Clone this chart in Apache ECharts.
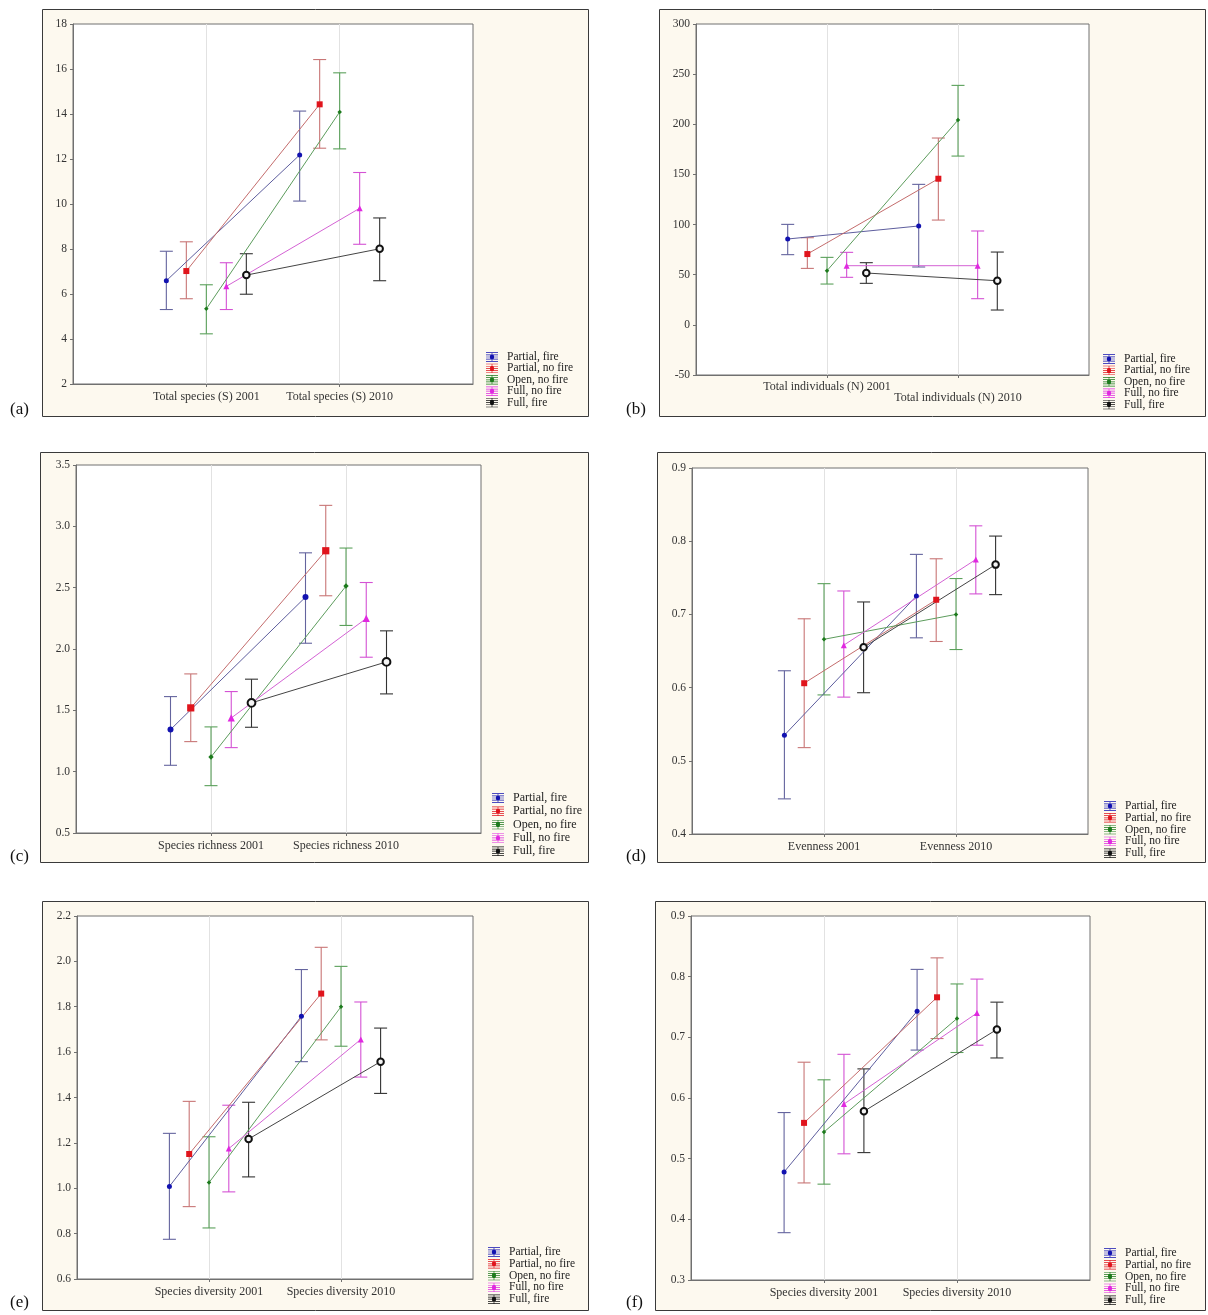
<!DOCTYPE html>
<html>
<head>
<meta charset="utf-8">
<script src="https://cdn.jsdelivr.net/npm/echarts@6/dist/echarts.min.js"></script>
<style>
html,body{margin:0;padding:0;background:#fff;}
#chart{width:1208px;height:1315px;}
</style>
</head>
<body>
<div id="chart"></div>
<script>
// ---------- DATA ----------
const GROUPS = ['Partial, fire', 'Partial, no fire', 'Open, no fire', 'Full, no fire', 'Full, fire'];

// (a) Total species
const aCats = ['Total species (S) 2001', 'Total species (S) 2010'];
const aYTicks = ['2', '4', '6', '8', '10', '12', '14', '16', '18'];
const aMean2001 = [6.59, 7.02, 5.34, 6.34, 6.84];
const aLow2001  = [5.31, 5.79, 4.23, 5.31, 5.99];
const aHigh2001 = [7.90, 8.32, 6.41, 7.39, 7.79];
const aMean2010 = [12.18, 14.43, 14.09, 9.81, 8.01];
const aLow2010  = [10.13, 12.48, 12.45, 8.21, 6.59];
const aHigh2010 = [14.13, 16.42, 15.83, 11.40, 9.38];

// (b) Total individuals
const bCats = ['Total individuals (N) 2001', 'Total individuals (N) 2010'];
const bYTicks = ['-50', '0', '50', '100', '150', '200', '250', '300'];
const bMean2001 = [85.6, 70.6, 54.0, 59.0, 51.7];
const bLow2001  = [70.0, 56.3, 40.7, 47.4, 41.4];
const bHigh2001 = [100.2, 86.9, 67.3, 72.3, 62.0];
const bMean2010 = [98.6, 145.7, 204.2, 59.0, 44.0];
const bLow2010  = [57.7, 104.5, 168.3, 26.1, 14.8];
const bHigh2010 = [140.1, 186.3, 238.8, 93.6, 72.6];

// (c) Species richness
const cCats = ['Species richness 2001', 'Species richness 2010'];
const cYTicks = ['0.5', '1.0', '1.5', '2.0', '2.5', '3.0', '3.5'];
const cMean2001 = [1.343, 1.520, 1.120, 1.438, 1.561];
const cLow2001  = [1.052, 1.245, 0.886, 1.196, 1.362];
const cHigh2001 = [1.612, 1.797, 1.365, 1.653, 1.754];
const cMean2010 = [2.423, 2.801, 2.513, 2.249, 1.895];
const cLow2010  = [2.047, 2.434, 2.192, 1.933, 1.634];
const cHigh2010 = [2.784, 3.171, 2.823, 2.542, 2.148];

// (d) Evenness
const dCats = ['Evenness 2001', 'Evenness 2010'];
const dYTicks = ['0.4', '0.5', '0.6', '0.7', '0.8', '0.9'];
const dMean2001 = [0.535, 0.606, 0.666, 0.658, 0.655];
const dLow2001  = [0.448, 0.518, 0.590, 0.587, 0.593];
const dHigh2001 = [0.623, 0.694, 0.742, 0.732, 0.717];
const dMean2010 = [0.725, 0.720, 0.700, 0.775, 0.768];
const dLow2010  = [0.668, 0.663, 0.652, 0.728, 0.727];
const dHigh2010 = [0.782, 0.776, 0.749, 0.821, 0.807];

// (e) Species diversity
const eCats = ['Species diversity 2001', 'Species diversity 2010'];
const eYTicks = ['0.6', '0.8', '1.0', '1.2', '1.4', '1.6', '1.8', '2.0', '2.2'];
const eMean2001 = [1.008, 1.151, 1.025, 1.175, 1.217];
const eLow2001  = [0.775, 0.919, 0.825, 0.984, 1.050];
const eHigh2001 = [1.242, 1.383, 1.227, 1.366, 1.379];
const eMean2010 = [1.758, 1.858, 1.800, 1.656, 1.558];
const eLow2010  = [1.558, 1.654, 1.626, 1.490, 1.418];
const eHigh2010 = [1.964, 2.062, 1.978, 1.821, 1.706];

// (f) Species diversity
const fCats = ['Species diversity 2001', 'Species diversity 2010'];
const fYTicks = ['0.3', '0.4', '0.5', '0.6', '0.7', '0.8', '0.9'];
const fMean2001 = [0.478, 0.559, 0.544, 0.590, 0.578];
const fLow2001  = [0.378, 0.460, 0.458, 0.508, 0.510];
const fHigh2001 = [0.576, 0.659, 0.630, 0.672, 0.648];
const fMean2010 = [0.743, 0.766, 0.731, 0.740, 0.713];
const fLow2010  = [0.679, 0.698, 0.675, 0.687, 0.666];
const fHigh2010 = [0.812, 0.831, 0.788, 0.796, 0.758];

// ---------- STYLE / LAYOUT ----------
const OFFSETS = [-0.3, -0.15, 0, 0.15, 0.3];
const MARKER_COLORS = ['#1212b0', '#e0141c', '#1c7a1c', '#e028e0', '#111111'];
const LINE_COLORS = ['#5e5e9e', '#c46c6c', '#5c9c5c', '#d462d4', '#444444'];
const ERR_COLORS = ['#64649e', '#c87676', '#5aa05a', '#d452d4', '#333333'];
const SYMBOLS = ['circle', 'rect', 'diamond', 'triangle', 'circle'];
const SERIF = '"Liberation Serif","DejaVu Serif",serif';

const panels = [
  {key: '(a)', cats: aCats, ticks: aYTicks, m1: aMean2001, l1: aLow2001, h1: aHigh2001, m2: aMean2010, l2: aLow2010, h2: aHigh2010,
   frame: [42, 9, 546, 407], grid: [73, 24, 400, 360], legend: [486, 351], label: [10, 401], stagger: false, ms: 1, gap: -0.6},
  {key: '(b)', cats: bCats, ticks: bYTicks, m1: bMean2001, l1: bLow2001, h1: bHigh2001, m2: bMean2010, l2: bLow2010, h2: bHigh2010,
   frame: [659, 9, 546, 407], grid: [696, 24, 393, 351], legend: [1103, 353], label: [626, 401], stagger: true, ms: 1, gap: -0.6},
  {key: '(c)', cats: cCats, ticks: cYTicks, m1: cMean2001, l1: cLow2001, h1: cHigh2001, m2: cMean2010, l2: cLow2010, h2: cHigh2010,
   frame: [40, 452, 548, 410], grid: [76, 465, 405, 368], legend: [492, 792], label: [10, 848], stagger: false, ms: 1.2, gap: 1.3},
  {key: '(d)', cats: dCats, ticks: dYTicks, m1: dMean2001, l1: dLow2001, h1: dHigh2001, m2: dMean2010, l2: dLow2010, h2: dHigh2010,
   frame: [657, 452, 548, 410], grid: [692, 468, 396, 366], legend: [1104, 800], label: [626, 848], stagger: false, ms: 1, gap: -0.2},
  {key: '(e)', cats: eCats, ticks: eYTicks, m1: eMean2001, l1: eLow2001, h1: eHigh2001, m2: eMean2010, l2: eLow2010, h2: eHigh2010,
   frame: [42, 901, 546, 409], grid: [77, 916, 396, 363], legend: [488, 1246], label: [10, 1294], stagger: false, ms: 1, gap: -0.2},
  {key: '(f)', cats: fCats, ticks: fYTicks, m1: fMean2001, l1: fLow2001, h1: fHigh2001, m2: fMean2010, l2: fLow2010, h2: fHigh2010,
   frame: [655, 901, 550, 409], grid: [691, 916, 399, 364], legend: [1104, 1247], label: [626, 1294], stagger: false, ms: 1, gap: -0.2}
];

const LEGEND_ICON = 'path://M0,0H14V0.8H0Z M0,2.6H14V3.4H0Z M0,5.1H14V5.9H0Z M0,7.6H14V8.4H0Z M0,10.2H14V11H0Z M6.6,0H7.4V11H6.6Z M9.6,5.5A2.6,2.6 0 1 1 4.4,5.5A2.6,2.6 0 1 1 9.6,5.5Z';

const grids = [], xAxes = [], yAxes = [], series = [], legends = [], graphics = [];

panels.forEach((p, pi) => {
  // frame
  graphics.push({
    type: 'rect', z: -10, silent: true,
    shape: {x: p.frame[0] + 0.5, y: p.frame[1] + 0.5, width: p.frame[2], height: p.frame[3]},
    style: {fill: '#fdf9ef', stroke: '#3a3a3a', lineWidth: 1}
  });
  graphics.push({
    type: 'text', left: p.label[0], top: p.label[1], silent: true,
    style: {text: p.key, font: '17px ' + SERIF, fill: '#111'}
  });

  grids.push({
    left: p.grid[0], top: p.grid[1], width: p.grid[2], height: p.grid[3],
    show: true, backgroundColor: '#ffffff', borderColor: '#707070', borderWidth: 1, containLabel: false
  });

  const ticks = p.ticks.map(Number);
  const yMin = ticks[0], yMax = ticks[ticks.length - 1], yInt = ticks[1] - ticks[0];
  const cats = p.cats;

  xAxes.push({
    type: 'value', gridIndex: pi, min: 0, max: 3, interval: 1,
    axisLine: {show: true, onZero: false, lineStyle: {color: '#707070'}},
    axisTick: {show: true, length: 3, customValues: [1, 2], lineStyle: {color: '#707070'}},
    splitLine: {show: true, lineStyle: {color: '#e2e2e2', width: 1}},
    axisLabel: {
      customValues: [1, 2], margin: p.stagger ? 6 : 7,
      fontFamily: SERIF, fontSize: 12, color: '#333', lineHeight: 11,
      formatter: function (v) {
        const i = Math.round(v) - 1;
        if (i < 0 || i > 1) return '';
        return (p.stagger && i === 1) ? '\n' + cats[i] : cats[i];
      }
    }
  });
  yAxes.push({
    type: 'value', gridIndex: pi, min: yMin, max: yMax, interval: yInt,
    axisLine: {show: true, onZero: false, lineStyle: {color: '#707070'}},
    axisTick: {show: true, length: 3, lineStyle: {color: '#707070'}},
    splitLine: {show: false},
    axisLabel: {
      margin: 6, fontFamily: SERIF, fontSize: 11.5, color: '#333',
      formatter: function (v) {
        const idx = Math.round((v - yMin) / yInt);
        return p.ticks[idx] !== undefined ? p.ticks[idx] : '';
      }
    }
  });

  GROUPS.forEach((g, gi) => {
    const x1 = 1 + OFFSETS[gi], x2 = 2 + OFFSETS[gi];
    // error bars
    series.push({
      type: 'custom', name: 'err-' + pi + '-' + gi, xAxisIndex: pi, yAxisIndex: pi, z: 2,
      silent: true,
      data: [[x1, p.l1[gi], p.h1[gi]], [x2, p.l2[gi], p.h2[gi]]],
      renderItem: function (params, api) {
        const lo = api.coord([api.value(0), api.value(1)]);
        const hi = api.coord([api.value(0), api.value(2)]);
        const w = 6.5;
        const st = {stroke: ERR_COLORS[gi], lineWidth: 1.1};
        return {
          type: 'group',
          children: [
            {type: 'line', shape: {x1: lo[0], y1: lo[1], x2: hi[0], y2: hi[1]}, style: st},
            {type: 'line', shape: {x1: lo[0] - w, y1: lo[1], x2: lo[0] + w, y2: lo[1]}, style: st},
            {type: 'line', shape: {x1: hi[0] - w, y1: hi[1], x2: hi[0] + w, y2: hi[1]}, style: st}
          ]
        };
      }
    });
    const isOpen = gi === 4;
    const baseSize = [5, 6, 4.5, 6, 6.5][gi] * p.ms;
    series.push({
      type: 'line', name: g, xAxisIndex: pi, yAxisIndex: pi, z: 3,
      data: [[x1, p.m1[gi]], [x2, p.m2[gi]]],
      symbol: SYMBOLS[gi], symbolSize: baseSize, showSymbol: true,
      lineStyle: {color: LINE_COLORS[gi], width: 1},
      itemStyle: isOpen ? {color: '#f4f4f4', borderColor: '#111', borderWidth: 2} : {color: MARKER_COLORS[gi], borderWidth: 0},
      emphasis: {disabled: true},
      animation: false
    });
  });

  legends.push({
    orient: 'vertical', left: p.legend[0], top: p.legend[1], height: 90, padding: 0,
    itemWidth: 12, itemHeight: 10, itemGap: p.gap,
    icon: LEGEND_ICON, selectedMode: false,
    textStyle: {fontFamily: SERIF, fontSize: pi === 2 ? 12 : 11.5, color: '#222', padding: [0, 0, 0, 4], lineHeight: pi === 2 ? 11 : 10.4},
    data: GROUPS.map((g, gi) => ({name: g, itemStyle: {color: MARKER_COLORS[gi], borderWidth: 0, borderColor: MARKER_COLORS[gi]}}))
  });
});

const chart = echarts.init(document.getElementById('chart'), null, {renderer: 'canvas'});
chart.setOption({
  animation: false,
  backgroundColor: '#ffffff',
  grid: grids,
  xAxis: xAxes,
  yAxis: yAxes,
  legend: legends,
  graphic: graphics,
  series: series
});
</script>
</body>
</html>
